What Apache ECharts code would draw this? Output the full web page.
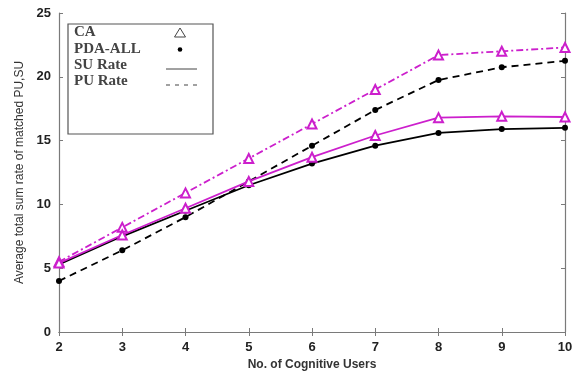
<!DOCTYPE html>
<html><head><meta charset="utf-8">
<script src="https://cdn.jsdelivr.net/npm/echarts@6/dist/echarts.min.js"></script>
<style>html,body{margin:0;padding:0;background:#fff}#c{width:579px;height:376px}</style>
</head><body><div id="c"></div>
<script>
const users = [2, 3, 4, 5, 6, 7, 8, 9, 10];
const caPU  = [5.5, 8.2, 10.9, 13.6, 16.3, 19.0, 21.7, 22.0, 22.3];
const caSU  = [5.4, 7.6, 9.7, 11.8, 13.7, 15.4, 16.8, 16.9, 16.85];
const pdaSU = [5.3, 7.5, 9.5, 11.5, 13.2, 14.6, 15.6, 15.9, 16.0];
const pdaPU = [4.0, 6.4, 9.0, 11.8, 14.6, 17.4, 19.75, 20.75, 21.25];
const legendNames = ['CA', 'PDA-ALL', 'SU Rate', 'PU Rate'];

const MAG = '#cc1fcc';
const AX = '#7a7a7a';
const pairs = a => users.map((u, i) => [u, a[i]]);

const chart = echarts.init(document.getElementById('c'));
const axisCommon = {
  axisLine: {show: true, lineStyle: {color: AX, width: 1.2}},
  axisTick: {show: true, inside: true, length: 4, lineStyle: {color: AX}},
  splitLine: {show: false}
};
const serif = 'Liberation Serif';
chart.setOption({
  animation: false,
  grid: {left: 59, right: 14, top: 13, bottom: 43},
  xAxis: [
    Object.assign({type: 'value', min: 2, max: 10, interval: 1,
      name: 'No. of Cognitive Users', nameLocation: 'middle', nameGap: 27,
      nameTextStyle: {fontFamily: 'Liberation Sans', fontWeight: 'bold', fontSize: 12, color: '#333'},
      axisLabel: {fontFamily: 'Liberation Sans', fontWeight: 'bold', fontSize: 13, color: '#222', margin: 9}}, axisCommon),
    Object.assign({type: 'value', min: 2, max: 10, interval: 1, position: 'top',
      axisLabel: {show: false}}, axisCommon)
  ],
  yAxis: [
    Object.assign({type: 'value', min: 0, max: 25, interval: 5,
      name: 'Average total sum rate of matched PU,SU', nameLocation: 'middle', nameGap: 32,
      nameTextStyle: {fontFamily: 'Liberation Sans', fontSize: 12, color: '#333'},
      axisLabel: {fontFamily: 'Liberation Sans', fontWeight: 'bold', fontSize: 13, color: '#222', margin: 8}}, axisCommon),
    Object.assign({type: 'value', min: 0, max: 25, interval: 5, position: 'right',
      axisLabel: {show: false}}, axisCommon)
  ],
  series: [
    {name: 'CA PU Rate', type: 'line', data: pairs(caPU), symbol: 'triangle', symbolSize: 9,
      lineStyle: {color: MAG, width: 1.8, type: [7, 3, 2, 3]},
      itemStyle: {color: '#fff', borderColor: MAG, borderWidth: 2}, z: 3},
    {name: 'PDA PU Rate', type: 'line', data: pairs(pdaPU), symbol: 'circle', symbolSize: 6,
      lineStyle: {color: '#000', width: 1.8, type: [7, 5]},
      itemStyle: {color: '#000', borderWidth: 0}, z: 2},
    {name: 'PDA SU Rate', type: 'line', data: pairs(pdaSU), symbol: 'circle', symbolSize: 6,
      lineStyle: {color: '#000', width: 1.8},
      itemStyle: {color: '#000', borderWidth: 0}, z: 2},
    {name: 'CA SU Rate', type: 'line', data: pairs(caSU), symbol: 'triangle', symbolSize: 9,
      lineStyle: {color: MAG, width: 1.8},
      itemStyle: {color: '#fff', borderColor: MAG, borderWidth: 2}, z: 3}
  ],
  graphic: [
    {type: 'rect', shape: {x: 68, y: 24, width: 145, height: 110},
      style: {fill: '#fff', stroke: '#555', lineWidth: 1.2}, z: 10},
    ...legendNames.map((n, i) => ({type: 'text', x: 74, y: 25 + i * 16.3,
      style: {text: n, font: 'bold 15px "' + serif + '"', fill: '#444'}, z: 11})),
    {type: 'polygon', shape: {points: [[180, 28], [174.5, 37], [185.5, 37]]},
      style: {fill: '#fff', stroke: '#444', lineWidth: 1}, z: 11},
    {type: 'circle', shape: {cx: 180, cy: 49.5, r: 2.3}, style: {fill: '#000'}, z: 11},
    {type: 'line', shape: {x1: 166, y1: 69, x2: 197, y2: 69}, style: {stroke: '#444', lineWidth: 1}, z: 11},
    {type: 'line', shape: {x1: 166, y1: 85, x2: 197, y2: 85}, style: {stroke: '#444', lineWidth: 1.2, lineDash: [4, 5]}, z: 11}
  ]
});
</script></body></html>
